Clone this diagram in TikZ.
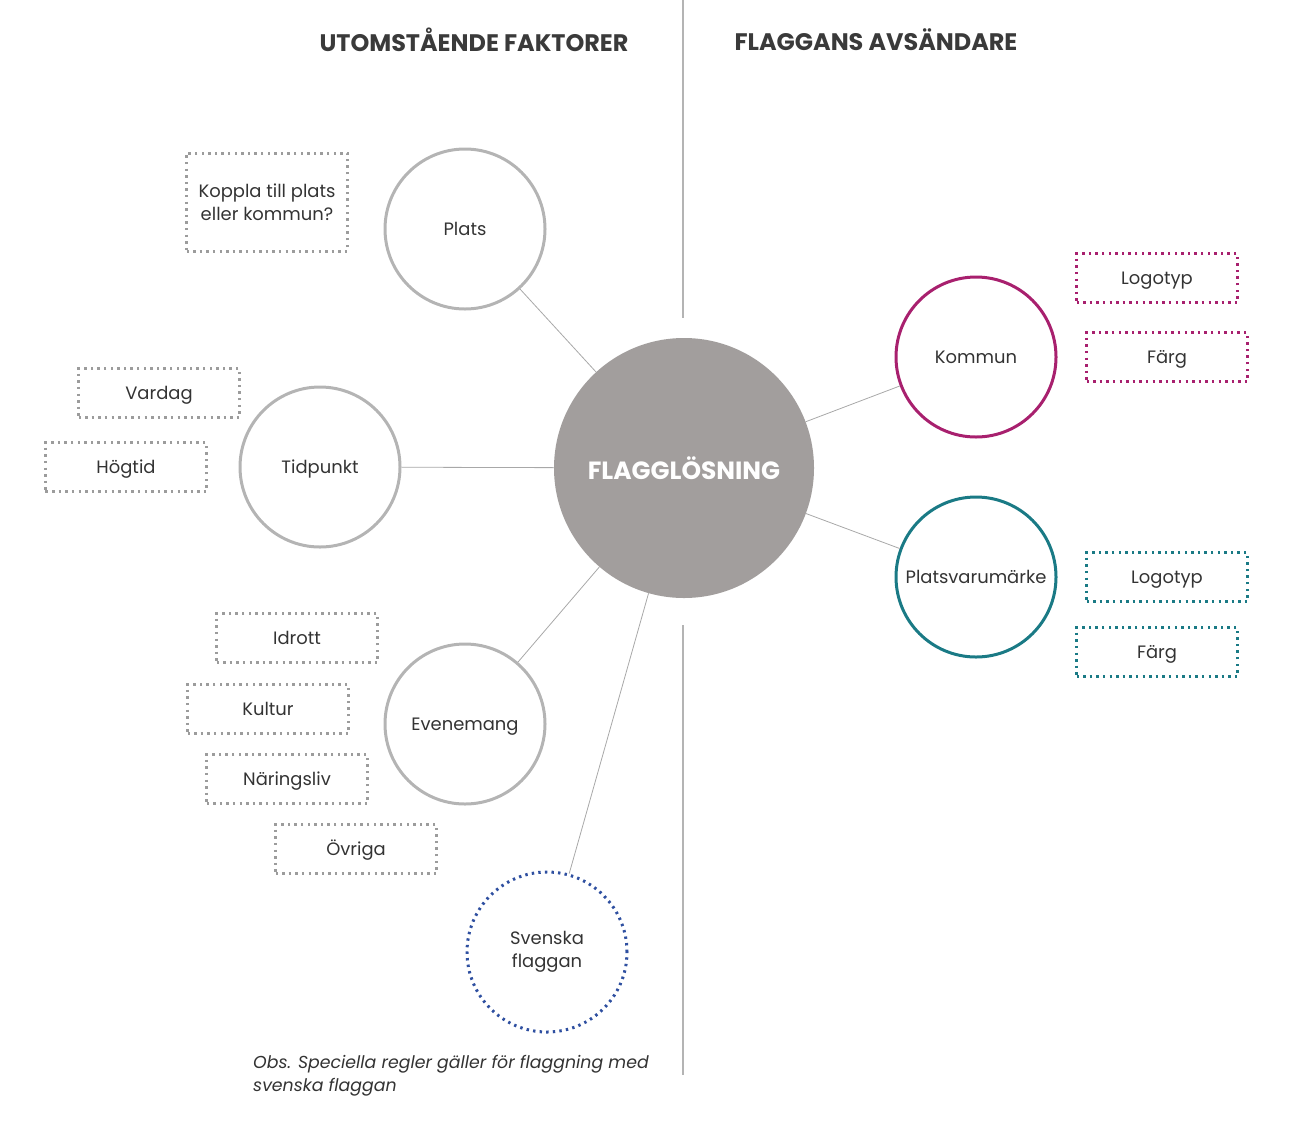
\documentclass[tikz,border=0pt]{standalone}
\usepackage{fontspec}
\setmainfont{Poppins}
\definecolor{ctxt}{HTML}{333333}
\definecolor{chead}{HTML}{3A3A3A}
\definecolor{cgray}{HTML}{B4B4B4}
\definecolor{cbox}{HTML}{9C9C9C}
\definecolor{ccenter}{HTML}{A29E9D}
\definecolor{cblue}{HTML}{2E4FA0}
\definecolor{cmag}{HTML}{A8206E}
\definecolor{cteal}{HTML}{1A7A85}
\definecolor{cline}{HTML}{A8A8A8}
\begin{document}
\begin{tikzpicture}[x=1bp,y=-1bp,
  every node/.style={font=\fontsize{18}{23}\selectfont, text=ctxt},
  ring/.style={circle, draw=cgray, line width=3bp, minimum size=160bp, inner sep=0pt, align=center},
  dotring/.style={ring, draw=cblue, dash pattern=on 2.4bp off 4.2bp},
  dotbox/.style={rectangle, draw=cbox, line width=3bp, dash pattern=on 2.4bp off 4.2bp, minimum width=161bp, minimum height=49bp, inner sep=0pt, align=center},
  one/.style={text height=13bp, text depth=0bp},
  conn/.style={draw=cline, line width=0.8bp},
  head/.style={font=\fontsize{24}{28}\selectfont\bfseries, text=chead}
]
\useasboundingbox (0,0) rectangle (1304,1146);
\coordinate (vtop) at (683,0);
\coordinate (vmid1) at (683,318);
\coordinate (vmid2) at (683,625);
\coordinate (vbot) at (683,1075);
\draw[cgray, line width=1.2bp] (vtop) -- (vmid1);
\draw[cgray, line width=1.2bp] (vmid2) -- (vbot);

\node[head] (h1) at (474,40) {UTOMSTÅENDE FAKTORER};
\node[head] (h2) at (876,40) {FLAGGANS AVSÄNDARE};

\node[circle, fill=ccenter, minimum size=260bp, inner sep=0pt, text=white, font=\fontsize{25}{28}\selectfont\bfseries] (c) at (684,468) {FLAGGLÖSNING};

\node[ring, one] (plats) at (465,229) {Plats};
\node[ring, one] (tid) at (320,467) {Tidpunkt};
\node[ring, one] (ev) at (465,724) {Evenemang};
\node[dotring] (sv) at (547,952) {Svenska\\flaggan};
\node[ring, one, draw=cmag] (kom) at (976,357) {Kommun};
\node[ring, one, draw=cteal] (pv) at (976,577) {Platsvarumärke};

\node[dotbox, minimum height=98bp] (koppla) at (267,202) {Koppla till plats\\eller kommun?};
\node[dotbox, one] (vardag) at (159,393) {Vardag};
\node[dotbox, one] (hogtid) at (126,467) {Högtid};
\node[dotbox, one] (idrott) at (297,638) {Idrott};
\node[dotbox, one] (kultur) at (268,709) {Kultur};
\node[dotbox, one] (nar) at (287,779) {Näringsliv};
\node[dotbox, one] (ovr) at (356,849) {Övriga};
\node[dotbox, one, draw=cmag] (klogo) at (1157,278) {Logotyp};
\node[dotbox, one, draw=cmag] (kfarg) at (1167,357) {Färg};
\node[dotbox, one, draw=cteal] (plogo) at (1167,577) {Logotyp};
\node[dotbox, one, draw=cteal] (pfarg) at (1157,652) {Färg};

\draw[conn] (c) -- (plats);
\draw[conn] (c) -- (tid);
\draw[conn] (c) -- (ev);
\draw[conn] (c) -- (sv);
\draw[conn] (c) -- (kom);
\draw[conn] (c) -- (pv);

\node[anchor=north west, align=left, inner sep=0pt, font=\fontsize{17.4}{23}\selectfont\itshape] (note) at (253,1055) {Obs. Speciella regler gäller för flaggning med\\svenska flaggan};
\end{tikzpicture}
\end{document}
